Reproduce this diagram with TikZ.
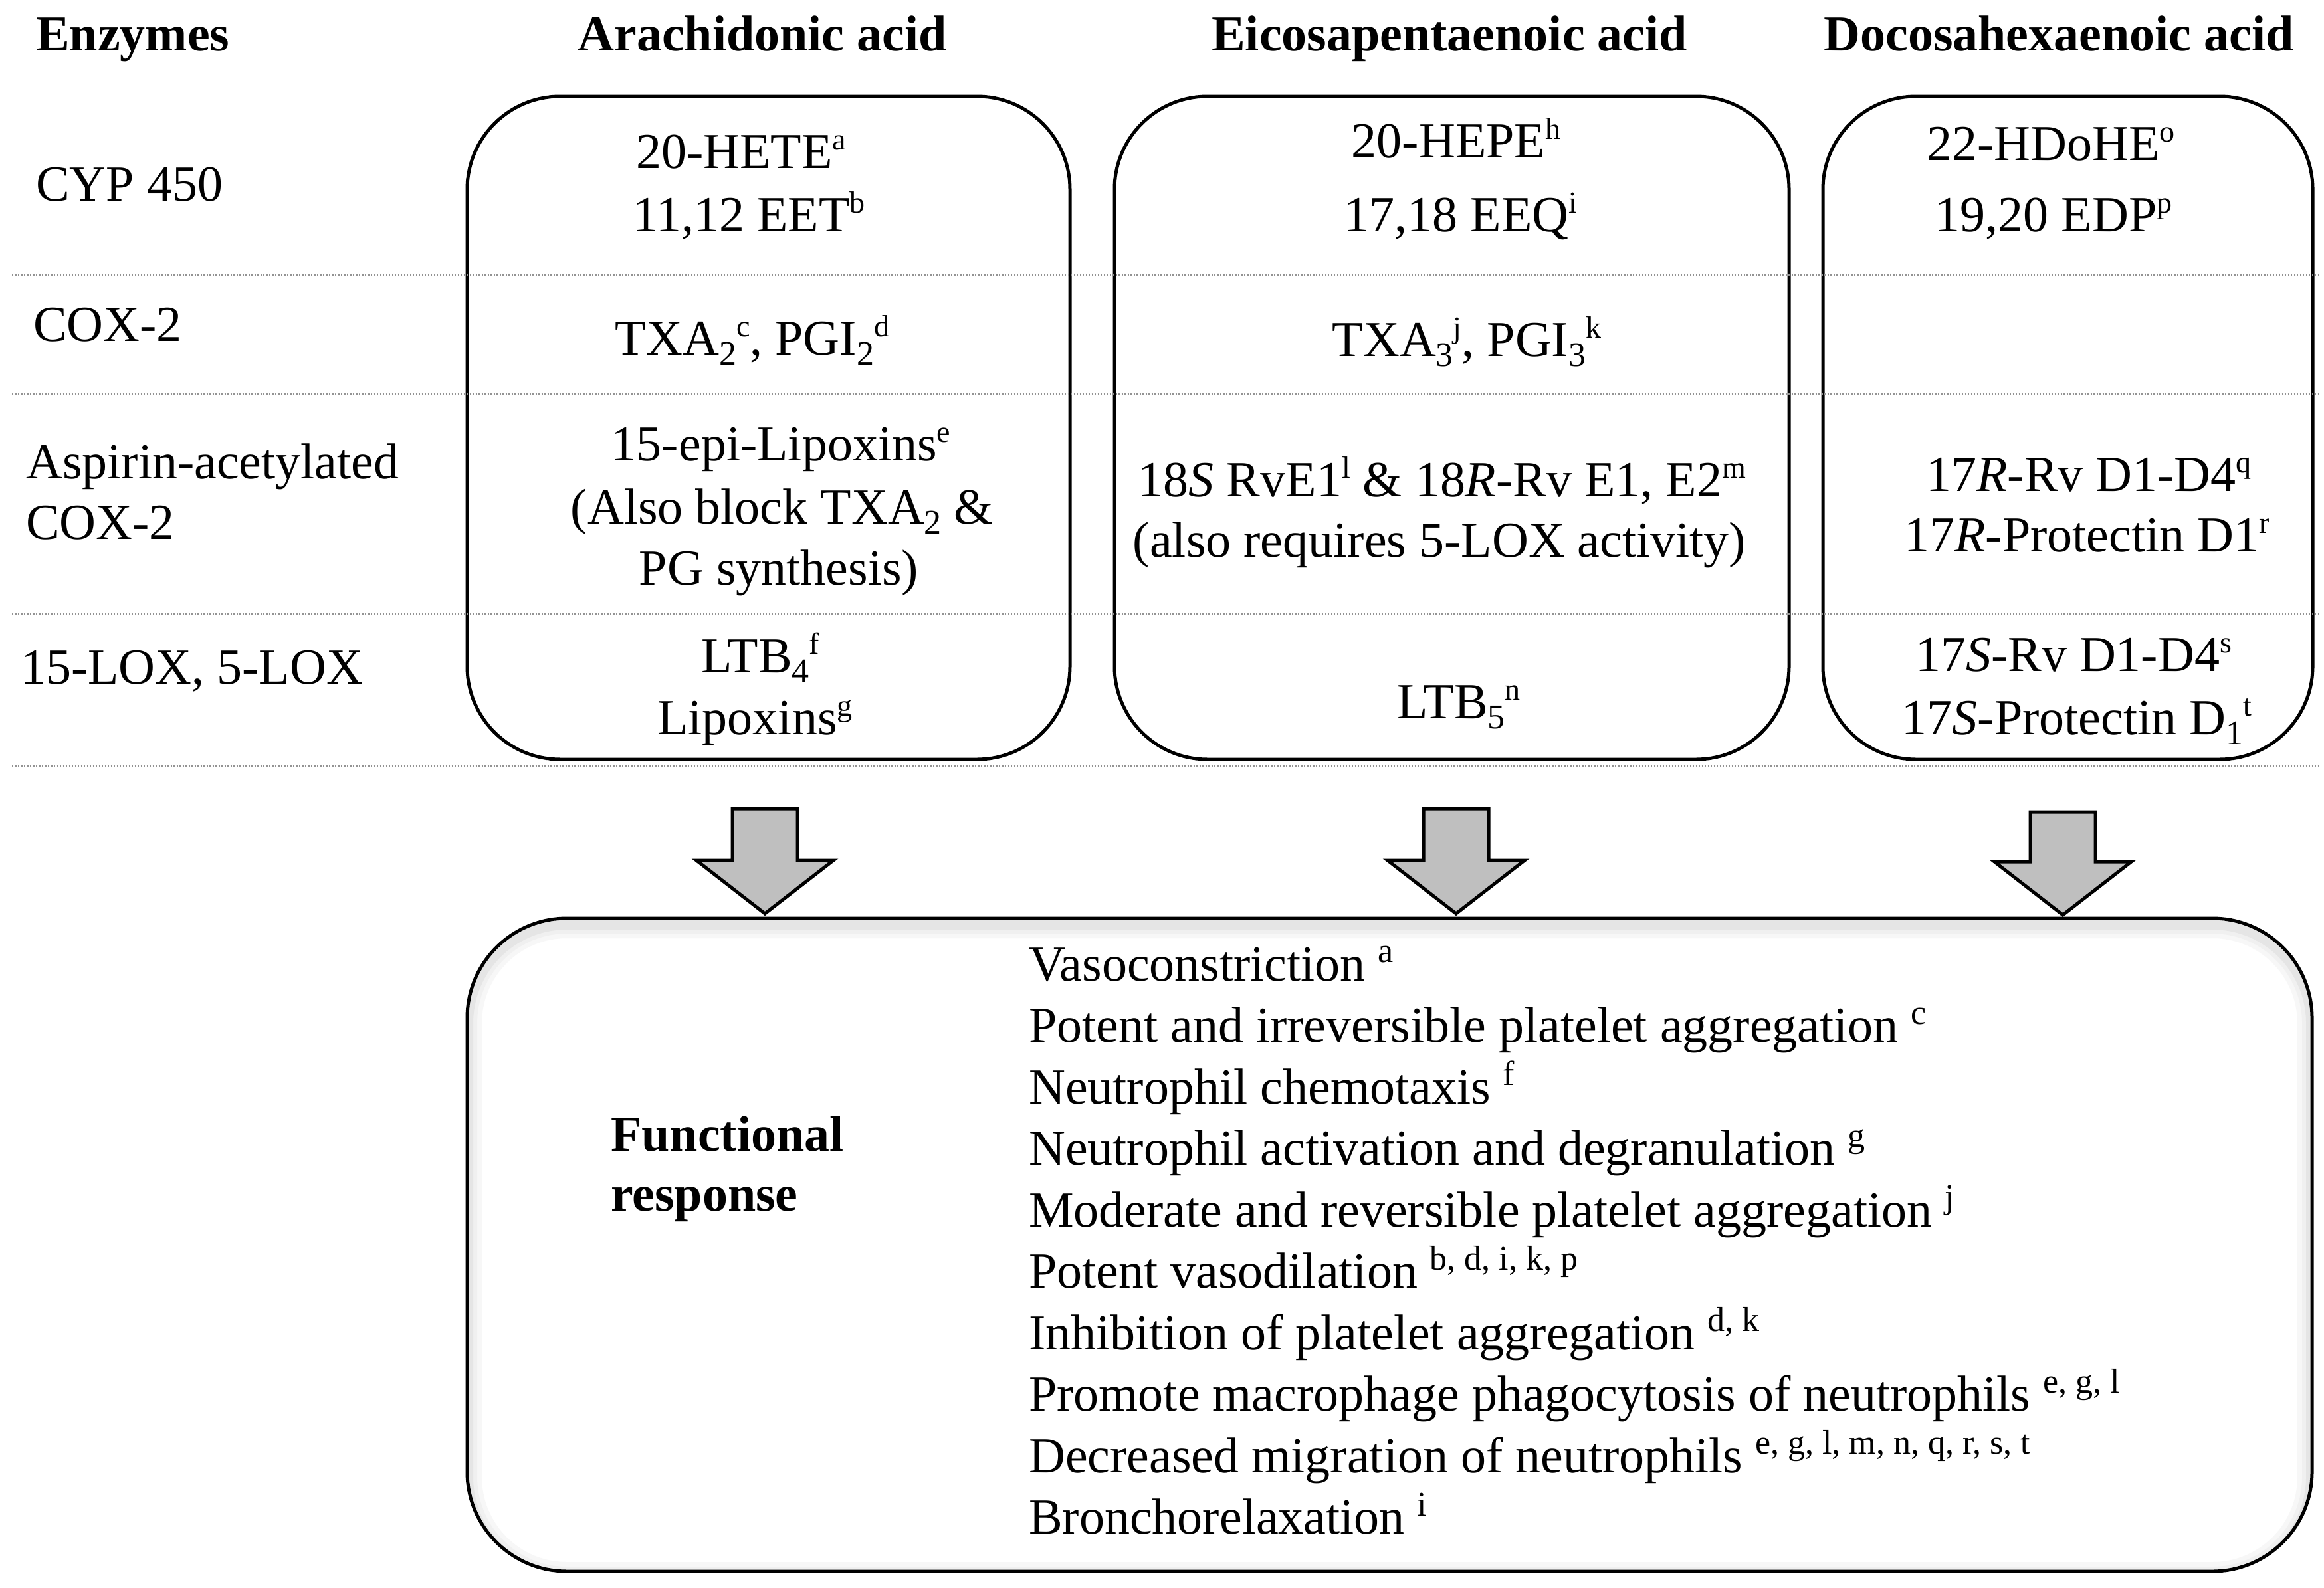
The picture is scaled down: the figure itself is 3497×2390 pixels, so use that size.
\documentclass[tikz,border=0pt]{standalone}
\usepackage{fontspec}
\setmainfont{Liberation Serif}
\newcommand\Sp[1]{\raisebox{0.36em}{\fontsize{46}{46}\selectfont #1}}
\newcommand\Lsp[1]{\raisebox{0.36em}{\fontsize{52}{52}\selectfont #1}}
\newcommand\Sb[1]{\raisebox{-0.2em}{\fontsize{52}{52}\selectfont #1}}
\newcommand\blockarrow[4]{%
  \draw[fat] (#1-49,#2) -- (#1+49,#2) -- (#1+49,#3) -- (#1+103,#3) -- (#1,#4) -- (#1-103,#3) -- (#1-49,#3) -- cycle;}
\begin{document}
\begin{tikzpicture}[x=1pt,y=-1pt,
  txt/.style={inner sep=0pt, font=\fontsize{76}{92}\selectfont},
  hdr/.style={inner sep=0pt, font=\fontsize{76}{92}\selectfont\bfseries},
  grp/.style={draw=black, line width=5pt, rounded corners=140pt, rectangle, inner sep=0pt},
  sep/.style={draw=gray!85, line width=3pt, dash pattern=on 2pt off 2.5pt},
  fat/.style={draw=black, line width=5pt, fill=gray!50, line join=miter}
]
\useasboundingbox (0,0) rectangle (3497,2390);
\fill[white] (0,0) rectangle (3497,2390);

% group boxes
\node[grp, minimum width=907pt, minimum height=998pt] (boxAA) at (1156.5,644) {};
\node[grp, minimum width=1015pt, minimum height=998pt] (boxEPA) at (2184.5,644) {};
\node[grp, minimum width=737pt, minimum height=998pt] (boxDHA) at (3111.5,644) {};

% separators
\draw[sep] (18,413) -- (3490,413);
\draw[sep] (18,593) -- (3490,593);
\draw[sep] (18,923) -- (3490,923);
\draw[sep] (18,1153) -- (3490,1153);

% headers
\node[hdr, anchor=base west] (hEnz) at (54,77) {Enzymes};
\node[hdr, anchor=base] (hAA) at (1147,77) {Arachidonic acid};
\node[hdr, anchor=base] (hEPA) at (2181,77) {Eicosapentaenoic acid};
\node[hdr, anchor=base] (hDHA) at (3098,77) {Docosahexaenoic acid};

% row labels
\node[txt, anchor=base west] (rCyp) at (54,302) {CYP 450};
\node[txt, anchor=base west] (rCox) at (50,513) {COX-2};
\node[txt, anchor=base west] (rAsp1) at (39,720) {Aspirin-acetylated};
\node[txt, anchor=base west] (rAsp2) at (39,811) {COX-2};
\node[txt, anchor=base west] (rLox) at (31,1029) {15-LOX, 5-LOX};

% arachidonic acid
\node[txt, anchor=base] (aa1) at (1115,253) {20-HETE\Sp{a}};
\node[txt, anchor=base] (aa2) at (1127,348) {11,12 EET\Sp{b}};
\node[txt, anchor=base] (aa3) at (1132,534) {TXA\Sb{2}\Sp{c}, PGI\Sb{2}\Sp{d}};
\node[txt, anchor=base] (aa4) at (1175,693) {15-epi-Lipoxins\Sp{e}};
\node[txt, anchor=base] (aa5) at (1177,788) {(Also block TXA\Sb{2} \&};
\node[txt, anchor=base] (aa6) at (1172,880) {PG synthesis)};
\node[txt, anchor=base] (aa7) at (1144,1012) {LTB\Sb{4}\Sp{f}};
\node[txt, anchor=base] (aa8) at (1136,1105) {Lipoxins\Sp{g}};

% eicosapentaenoic acid
\node[txt, anchor=base] (ep1) at (2191,237) {20-HEPE\Sp{h}};
\node[txt, anchor=base] (ep2) at (2198,348) {17,18 EEQ\Sp{i}};
\node[txt, anchor=base] (ep3) at (2207,536) {TXA\Sb{3}\Sp{j}, PGI\Sb{3}\Sp{k}};
\node[txt, anchor=base] (ep4) at (2170,747) {18\textit{S} RvE1\Sp{l} \& 18\textit{R}-Rv E1, E2\Sp{m}};
\node[txt, anchor=base] (ep5) at (2166,838) {(also requires 5-LOX activity)};
\node[txt, anchor=base] (ep6) at (2195,1081) {LTB\Sb{5}\Sp{n}};

% docosahexaenoic acid
\node[txt, anchor=base] (dh1) at (3086,241) {22-HDoHE\Sp{o}};
\node[txt, anchor=base] (dh2) at (3090,348) {19,20 EDP\Sp{p}};
\node[txt, anchor=base] (dh3) at (3143,739) {17\textit{R}-Rv D1-D4\Sp{q}};
\node[txt, anchor=base] (dh4) at (3140,830) {17\textit{R}-Protectin D1\Sp{r}};
\node[txt, anchor=base] (dh5) at (3120,1010) {17\textit{S}-Rv D1-D4\Sp{s}};
\node[txt, anchor=base] (dh6) at (3125,1105) {17\textit{S}-Protectin D\Sb{1}\Sp{t}};

% block arrows
\blockarrow{1151}{1217}{1295}{1375}
\blockarrow{2191}{1217}{1295}{1375}
\blockarrow{3104}{1222}{1297}{1377}

% functional response box with soft inner shadow
\begin{scope}
  \clip[rounded corners=150pt] (703,1382) rectangle (3479,2365);
  \draw[line width=44pt, black!3, rounded corners=150pt] (703,1390) rectangle (3479,2373);
  \draw[line width=30pt, black!6, rounded corners=150pt] (703,1390) rectangle (3479,2373);
  \draw[line width=18pt, black!10, rounded corners=150pt] (703,1390) rectangle (3479,2373);
\end{scope}
\node[grp, rounded corners=150pt, minimum width=2776pt, minimum height=983pt] (fr) at (2091,1873.5) {};

\node[hdr, anchor=base west] (fr1) at (919,1732) {Functional};
\node[hdr, anchor=base west] (fr2) at (919,1822) {response};

\node[txt, anchor=base west] (l1) at (1548,1476) {Vasoconstriction \Lsp{a}};
\node[txt, anchor=base west] (l2) at (1548,1568.5) {Potent and irreversible platelet aggregation \Lsp{c}};
\node[txt, anchor=base west] (l3) at (1548,1661) {Neutrophil chemotaxis \Lsp{f}};
\node[txt, anchor=base west] (l4) at (1548,1753.5) {Neutrophil activation and degranulation \Lsp{g}};
\node[txt, anchor=base west] (l5) at (1548,1846) {Moderate and reversible platelet aggregation \Lsp{j}};
\node[txt, anchor=base west] (l6) at (1548,1938.5) {Potent vasodilation \Lsp{b, d, i, k, p}};
\node[txt, anchor=base west] (l7) at (1548,2031) {Inhibition of platelet aggregation \Lsp{d, k}};
\node[txt, anchor=base west] (l8) at (1548,2123.5) {Promote macrophage phagocytosis of neutrophils \Lsp{e, g, l}};
\node[txt, anchor=base west] (l9) at (1548,2216) {Decreased migration of neutrophils \Lsp{e, g, l, m, n, q, r, s, t}};
\node[txt, anchor=base west] (l10) at (1548,2308.5) {Bronchorelaxation \Lsp{i}};
\end{tikzpicture}
\end{document}
